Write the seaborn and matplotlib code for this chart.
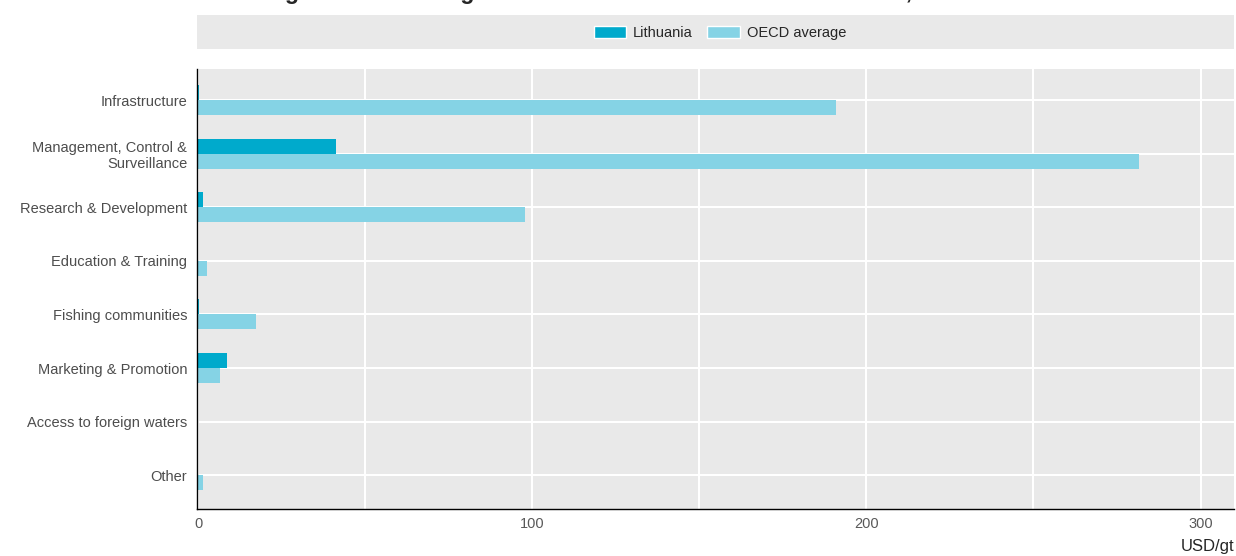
import matplotlib
matplotlib.use("Agg")
import matplotlib.pyplot as plt
import matplotlib.patches as mpatches
from matplotlib.ticker import MultipleLocator
import pandas as pd
import seaborn as sns

categories = ["Infrastructure", "Management, Control &\nSurveillance", "Research & Development",
              "Education & Training", "Fishing communities", "Marketing & Promotion",
              "Access to foreign waters", "Other"]
lithuania = [0.3, 41.3, 1.6, 0.0, 0.4, 8.8, 0.0, 0.0]
oecd = [191.0, 281.6, 97.8, 2.8, 17.4, 6.7, 0.0, 1.6]
series = ["Lithuania", "OECD average"]
colors = ["#00AACC", "#85D3E5"]

df = pd.DataFrame({
    "category": categories * 2,
    "value": lithuania + oecd,
    "series": [series[0]] * len(categories) + [series[1]] * len(categories),
})

sns.set_style("white")
plt.rcParams["font.family"] = ["Liberation Sans", "DejaVu Sans"]

fig = plt.figure(figsize=(12.36, 5.56), dpi=100)
ax = fig.add_axes([197 / 1236, 1 - 509 / 556, (1234 - 197) / 1236, (509 - 69) / 556])
ax.set_facecolor("#E9E9E9")

sns.barplot(data=df, x="value", y="category", hue="series", orient="h",
            palette=colors, width=0.56, gap=0.0, saturation=1, linewidth=0,
            ax=ax, legend=False)

ax.set_xlim(-0.3, 310)
ax.set_ylim(7.63, -0.58)
ax.xaxis.set_major_locator(MultipleLocator(100))
ax.xaxis.set_minor_locator(MultipleLocator(50))
ax.grid(axis="x", which="both", color="white", linewidth=1.5)
ax.grid(axis="y", color="white", linewidth=1.5)
ax.set_axisbelow(True)

for s in ["top", "right"]:
    ax.spines[s].set_visible(False)
for s in ["left", "bottom"]:
    ax.spines[s].set_color("black")
    ax.spines[s].set_linewidth(1.0)
    ax.spines[s].set_zorder(5)

ax.tick_params(axis="y", direction="in", length=5, width=1.2, color="#666666", labelsize=10.5,
               labelcolor="#4D4D4D", pad=7)
ax.tick_params(axis="x", which="major", direction="in", length=4, color="#777777",
               labelsize=10.5, labelcolor="#595959", pad=6)
ax.tick_params(axis="x", which="minor", length=0)
for t in ax.get_yticklabels():
    t.set_horizontalalignment("right")
    t.set_multialignment("right")
ax.set_xlabel("")
ax.set_ylabel("")

fig.text(1234 / 1236, 1 - 546 / 556, "USD/gt", ha="right", va="center", fontsize=12)

# legend band
fig.patches.append(mpatches.Rectangle((197 / 1236, 1 - 49 / 556), (1234 - 197) / 1236, 34 / 556,
                                      transform=fig.transFigure, facecolor="#E9E9E9",
                                      edgecolor="none", zorder=0))
handles = [mpatches.Patch(facecolor=c, label=l) for c, l in zip(colors, series)]
fig.legend(handles=handles, loc="center", bbox_to_anchor=(720 / 1236, 1 - 33 / 556),
           ncol=2, frameon=False, fontsize=10.5, handlelength=2.2, handleheight=0.9,
           columnspacing=1.0, handletextpad=0.5)

# title, mostly above the top edge as in the reference
fig.text(240 / 1236, 1 + 1 / 556, "Budget allocated to general services to fisheries in Lithuania, 2021",
         ha="left", va="baseline", fontsize=16.7, fontweight="bold")

fig.savefig("out.png", dpi=100)
